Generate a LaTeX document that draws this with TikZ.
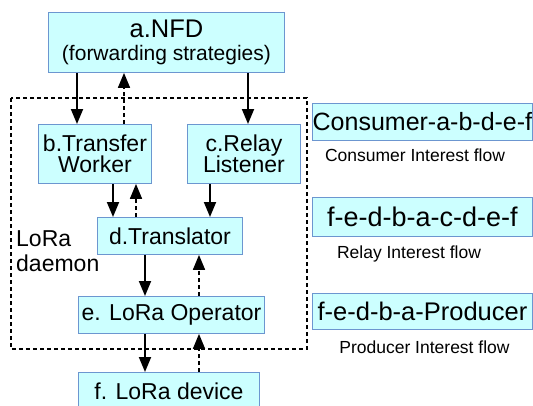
\documentclass[tikz,border=0pt]{standalone}
\usepackage{fontspec}
\setmainfont{Liberation Sans}
\usetikzlibrary{arrows.meta}
\definecolor{boxfill}{HTML}{CCFFFF}
\definecolor{boxline}{HTML}{6C96D0}
\begin{document}
\begin{tikzpicture}[x=1pt,y=-1pt,
  blk/.style={draw=boxline,fill=boxfill,line width=0.9pt,inner sep=0pt,anchor=north west,align=center},
  midtext/.style={font=\fontsize{23}{21.5}\selectfont},
  sarr/.style={line width=1.9pt,-{Triangle[length=15pt,width=12pt]}},
  darr/.style={line width=1.7pt,dash pattern=on 4pt off 3pt,-{Triangle[length=15pt,width=12pt]}},
  daemonbox/.style={line width=1.8pt,dash pattern=on 4pt off 3pt},
  flowlbl/.style={font=\fontsize{17.5}{19}\selectfont,inner sep=0pt}]
\clip (0,0) rectangle (533,405);
\fill[white] (0,0) rectangle (533,405);
% daemon dashed frame
\draw[daemonbox] (11,98) rectangle (307,349);
% nodes
\node[blk,minimum width=236pt,minimum height=60pt,font=\fontsize{21}{23}\selectfont] (a) at (48,12)
  {{\fontsize{25.5}{25}\selectfont a.NFD}\\(forwarding strategies)};
\node[blk,midtext,minimum width=113pt,minimum height=59pt] (b) at (38,124) {b.Transfer\\Worker};
\node[blk,midtext,minimum width=113pt,minimum height=59pt] (c) at (187,124) {c.Relay\\Listener};
\node[blk,midtext,minimum width=145pt,minimum height=37pt] (d) at (97,217) {d.Translator};
\node[blk,midtext,minimum width=186pt,minimum height=37pt] (e) at (78,296) {e. LoRa Operator};
\node[blk,midtext,minimum width=181pt,minimum height=37pt] (f) at (78,372) {f. LoRa device};
\node[anchor=west,align=left,inner sep=0pt,font=\fontsize{23}{25}\selectfont] (lbl) at (16,251) {LoRa\\daemon};
% right side flows
\node[blk,minimum width=220pt,minimum height=37pt,font=\fontsize{25}{27}\selectfont] (f1) at (312,103) {Consumer-a-b-d-e-f};
\node[flowlbl] (l1) at (415,155) {Consumer Interest flow};
\node[blk,minimum width=220pt,minimum height=39pt,font=\fontsize{27}{29}\selectfont] (f2) at (312,197) {f-e-d-b-a-c-d-e-f};
\node[flowlbl] (l2) at (409,254) {Relay Interest flow};
\node[blk,minimum width=220pt,minimum height=36pt,font=\fontsize{25.5}{27}\selectfont] (f3) at (312,293) {f-e-d-b-a-Producer};
\node[flowlbl] (l3) at (424.5,347) {Producer Interest flow};
% connectors
\draw[sarr] (a.south -| 77,0) -- (b.north -| 77,0);
\draw[darr] (b.north -| 124,0) -- (a.south -| 124,0);
\draw[sarr] (a.south -| 248,0) -- (c.north -| 248,0);
\draw[sarr] (b.south -| 113,0) -- (d.north -| 113,0);
\draw[darr] (d.north -| 136,0) -- (b.south -| 136,0);
\draw[sarr] (c.south -| 210,0) -- (d.north -| 210,0);
\draw[sarr] (d.south -| 145,0) -- (e.north -| 145,0);
\draw[darr] (e.north -| 199,0) -- (d.south -| 199,0);
\draw[sarr] (e.south -| 145,0) -- (f.north -| 145,0);
\draw[darr] (f.north -| 199,0) -- (e.south -| 199,0);
\end{tikzpicture}
\end{document}
